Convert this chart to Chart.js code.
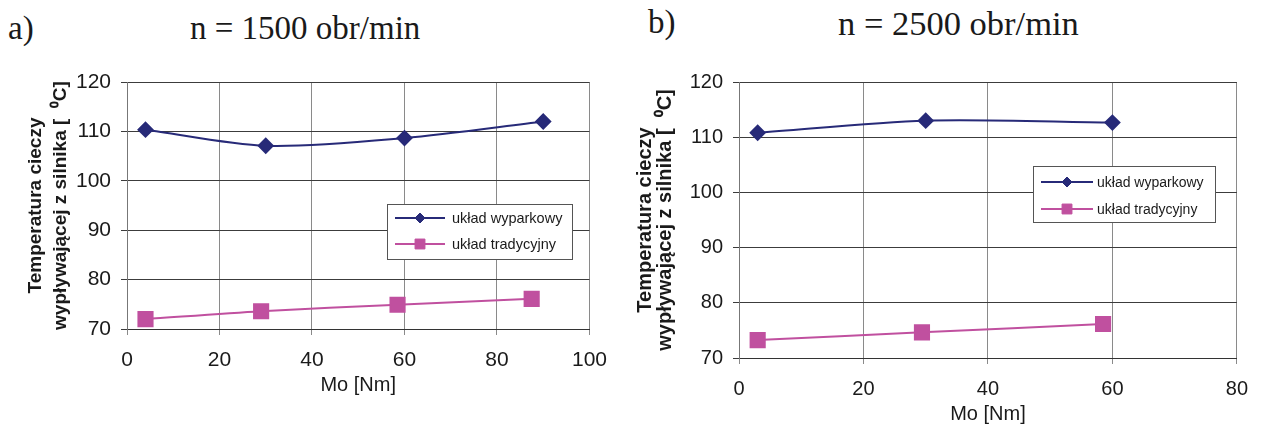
<!DOCTYPE html>
<html lang="pl">
<head>
<meta charset="UTF-8">
<title>Temperatura cieczy</title>
<style>
  body { margin: 0; width: 1261px; height: 427px; background: #fff; position: relative; overflow: hidden; }
  .lbl { position: absolute; font-family: "Liberation Serif", "Times New Roman", serif; font-size: 33px; line-height: 1; color: #1a1a1a; white-space: nowrap; }
  canvas { position: absolute; top: 0; }
</style>
</head>
<body>
<div class="lbl" style="left:8px; top:12px">a)</div>
<div class="lbl" style="left:190px; top:12px">n = 1500 obr/min</div>
<div class="lbl" style="left:648px; top:6px">b)</div>
<div class="lbl" style="left:838px; top:6px; font-size:34.5px">n = 2500 obr/min</div>
<canvas id="chartA" width="620" height="427" style="left:0"></canvas>
<canvas id="chartB" width="641" height="427" style="left:620px"></canvas>
<script src="https://cdn.jsdelivr.net/npm/chart.js@4.4.1/dist/chart.umd.min.js"></script>
<script>
const labelWyp = 'układ wyparkowy';
const labelTrad = 'układ tradycyjny';
const xTitle = 'Mo [Nm]';
const yTitle = ['Temperatura cieczy', 'wypływającej z silnika [  \u2070C]'];

// a) n = 1500 obr/min
const xWypA = [4, 30, 60, 90];
const yWypA = [110.35, 107.1, 108.65, 112.0];
const xTradA = [4, 29, 58.5, 87.5];
const yTradA = [72.0, 73.6, 74.9, 76.1];

// b) n = 2500 obr/min
const xWypB = [3, 30, 60];
const yWypB = [110.8, 113.0, 112.65];
const xTradB = [3, 29.4, 58.5];
const yTradB = [73.25, 74.65, 76.15];

const navy = '#272a78';
const pink = '#c0509f';

Chart.defaults.font.family = '"Liberation Sans", Arial, sans-serif';
Chart.defaults.color = '#1a1a1a';

function pts(xs, ys) {
  return xs.map((x, i) => ({ x: x, y: ys[i] }));
}

// legend drawn as a framed box inside the plot, like the original
const boxLegend = {
  id: 'boxLegend',
  afterDraw(chart, args, o) {
    const ctx = chart.ctx;
    ctx.save();
    ctx.fillStyle = '#fff';
    ctx.fillRect(o.x, o.y, o.w, o.h);
    ctx.strokeStyle = '#555';
    ctx.lineWidth = 1;
    ctx.strokeRect(o.x + 0.5, o.y + 0.5, o.w, o.h);
    ctx.font = o.fontSize + 'px "Liberation Sans", Arial, sans-serif';
    ctx.textBaseline = 'middle';
    chart.data.datasets.forEach((ds, i) => {
      const yy = o.rows[i];
      ctx.strokeStyle = ds.borderColor;
      ctx.lineWidth = 2;
      ctx.beginPath();
      ctx.moveTo(o.lineX0, yy);
      ctx.lineTo(o.lineX1, yy);
      ctx.stroke();
      ctx.fillStyle = ds.backgroundColor;
      ctx.lineWidth = 1;
      Chart.helpers.drawPoint(ctx, { pointStyle: ds.pointStyle, radius: o.markR[i], borderWidth: 1, rotation: 0 },
        (o.lineX0 + o.lineX1) / 2, yy);
      ctx.fillStyle = '#1a1a1a';
      ctx.fillText(ds.label, o.textX, yy + 1);
    });
    ctx.restore();
  }
};

function makeChart(id, wyp, trad, cfg) {
  return new Chart(document.getElementById(id), {
    type: 'line',
    data: {
      datasets: [
        { label: labelWyp, data: wyp, borderColor: navy, backgroundColor: navy, borderWidth: 2,
          pointStyle: 'rectRot', pointRadius: 7, tension: 0.3 },
        { label: labelTrad, data: trad, borderColor: pink, backgroundColor: pink, borderWidth: 2,
          pointStyle: 'rect', pointRadius: 10, tension: 0.3 }
      ]
    },
    options: {
      responsive: false,
      animation: false,
      layout: { padding: { top: cfg.top, right: cfg.right, left: 0, bottom: 0 } },
      plugins: {
        legend: { display: false },
        tooltip: { enabled: false },
        boxLegend: cfg.legend
      },
      scales: {
        x: {
          type: 'linear', min: 0, max: cfg.xMax,
          ticks: { stepSize: 20, padding: 13, font: { size: cfg.tickSize } },
          grid: { color: '#8a8a8a', tickLength: 6 },
          border: { color: '#333' },
          title: { display: true, text: xTitle, font: { size: 20 }, padding: { top: 0, bottom: cfg.xTitlePad } },
          afterFit: s => { s.height = cfg.xH; }
        },
        y: {
          min: 70, max: 120,
          ticks: { stepSize: 10, padding: 10, font: { size: cfg.tickSize } },
          grid: { color: '#3c3c3c', tickLength: 6 },
          border: { color: '#777' },
          title: { display: true, text: yTitle, font: { size: cfg.yTitleSize, weight: 'bold', lineHeight: cfg.yLh },
                   padding: { top: cfg.yTitlePad, bottom: 0 } },
          afterFit: s => { s.width = cfg.yW; }
        }
      }
    },
    plugins: [boxLegend]
  });
}

makeChart('chartA', pts(xWypA, yWypA), pts(xTradA, yTradA), {
  top: 82, right: 24, xMax: 100, xH: 98, yW: 127, tickSize: 21,
  xTitlePad: 30, yTitleSize: 19, yLh: 25 / 19, yTitlePad: 23.5,
  legend: { x: 387, y: 204, w: 185, h: 55, rows: [218, 244], lineX0: 395, lineX1: 445, textX: 452,
            markR: [5, 7], fontSize: 14.5 }
});

makeChart('chartB', pts(xWypB, yWypB), pts(xTradB, yTradB), {
  top: 82, right: 19, xMax: 80, xH: 69, yW: 119, tickSize: 20,
  xTitlePad: 1, yTitleSize: 20, yLh: 20 / 20, yTitlePad: 15,
  legend: { x: 413, y: 166, w: 182, h: 56, rows: [182, 209], lineX0: 421, lineX1: 473, textX: 477,
            markR: [5, 7], fontSize: 14 }
});
</script>
</body>
</html>
